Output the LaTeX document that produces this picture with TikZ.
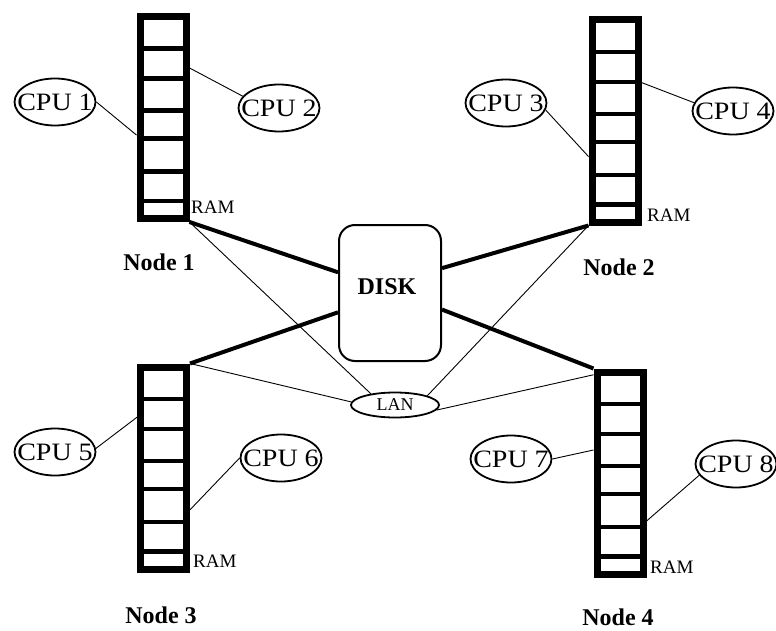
\documentclass[tikz,border=0pt]{standalone}
\usepackage{fontspec}
\setmainfont{Liberation Serif}
\newfontfamily\widefont[FakeStretch=1.12]{Liberation Serif}
\usetikzlibrary{shapes.geometric,calc}
\tikzset{
  ram/.style={draw, rectangle, line width=7pt, minimum width=46pt, minimum height=202pt, inner sep=0pt},
  divider/.style={line width=4.5pt},
  cpu/.style={draw, ellipse, line width=1.8pt, minimum width=81pt, minimum height=47pt, inner sep=0pt, font=\widefont\fontsize{25}{25}\selectfont},
  disk/.style={draw, rectangle, rounded corners=16pt, line width=2pt, minimum width=102pt, minimum height=136pt, inner sep=0pt},
  disktext/.style={font=\fontsize{24}{24}\selectfont\bfseries},
  lan/.style={draw, ellipse, line width=1.8pt, minimum width=88pt, minimum height=25pt, inner sep=0pt, font=\fontsize{18}{18}\selectfont},
  ramlbl/.style={anchor=west, inner sep=0pt, font=\fontsize{19}{19}\selectfont},
  nodelbl/.style={inner sep=0pt, font=\fontsize{24}{24}\selectfont\bfseries},
  thin/.style={line width=0.9pt},
  thick/.style={line width=4pt},
}
\begin{document}
\begin{tikzpicture}[x=1pt,y=-1pt]
\useasboundingbox (0,0) rectangle (776,631);
% RAM columns
\node[ram] (ram1) at (163,117.5) {};
\node[ram] (ram2) at (615,121) {};
\node[ram] (ram3) at (163.5,468) {};
\node[ram] (ram4) at (620,473) {};
\foreach \r in {ram1,ram2,ram3,ram4}
  \foreach \f in {0.17,0.313,0.466,0.60,0.759,0.899}
    \draw[divider] ($(\r.north west)!\f!(\r.south west)$) -- ($(\r.north east)!\f!(\r.south east)$);
% RAM labels
\node[ramlbl] (r1) at (191,207) {RAM};
\node[ramlbl] (r2) at (647,215) {RAM};
\node[ramlbl] (r3) at (193,561) {RAM};
\node[ramlbl] (r4) at (650,567) {RAM};
% Node labels
\node[nodelbl] (n1) at (159,262) {Node 1};
\node[nodelbl] (n2) at (619,267) {Node 2};
\node[nodelbl] (n3) at (161,615) {Node 3};
\node[nodelbl] (n4) at (618,617) {Node 4};
% CPUs
\node[cpu] (c1) at (55,102) {\makebox[0pt]{CPU 1}};
\node[cpu] (c2) at (279,108) {\makebox[0pt]{CPU 2}};
\node[cpu] (c3) at (506,103) {\makebox[0pt]{CPU 3}};
\node[cpu] (c4) at (733,111) {\makebox[0pt]{CPU 4}};
\node[cpu] (c5) at (55,452) {\makebox[0pt]{CPU 5}};
\node[cpu] (c6) at (281,458) {\makebox[0pt]{CPU 6}};
\node[cpu] (c7) at (511,459) {\makebox[0pt]{CPU 7}};
\node[cpu] (c8) at (736,464) {\makebox[0pt]{CPU 8}};
% Disk and LAN
\node[disk] (disk) at (390,293) {};
\node[disktext] (disklbl) at (387,287) {DISK};
\node[lan] (lan) at (395,405) {LAN};
% CPU - RAM connectors
\draw[thin] (c1.east) -- ($(ram1.north west)!0.584!(ram1.south west)$);
\draw[thin] (c2.162) -- ($(ram1.north east)!0.263!(ram1.south east)$);
\draw[thin] (c3.-10) -- ($(ram2.north west)!0.67!(ram2.south west)$);
\draw[thin] (c4.168) -- ($(ram2.north east)!0.316!(ram2.south east)$);
\draw[thin] (c5.5) -- ($(ram3.north west)!0.257!(ram3.south west)$);
\draw[thin] (c6.west) -- ($(ram3.north east)!0.70!(ram3.south east)$);
\draw[thin] (c7.east) -- ($(ram4.north west)!0.39!(ram4.south west)$);
\draw[thin] (c8.197) -- ($(ram4.north east)!0.73!(ram4.south east)$);
% RAM - DISK (thick)
\draw[thick] (ram1.south east) -- ($(disk.north west)!0.35!(disk.south west)$);
\draw[thick] (ram2.south west) -- ($(disk.north east)!0.32!(disk.south east)$);
\draw[thick] (ram3.north east) -- ($(disk.north west)!0.64!(disk.south west)$);
\draw[thick] (ram4.north west) -- ($(disk.north east)!0.62!(disk.south east)$);
% RAM - LAN (thin)
\draw[thin] (ram1.south east) -- (lan.155);
\draw[thin] (ram2.south west) -- (lan.16);
\draw[thin] (ram3.north east) -- (lan.176);
\draw[thin] ($(ram4.north west)!0.03!(ram4.south west)$) -- (lan.-7);
\end{tikzpicture}
\end{document}
